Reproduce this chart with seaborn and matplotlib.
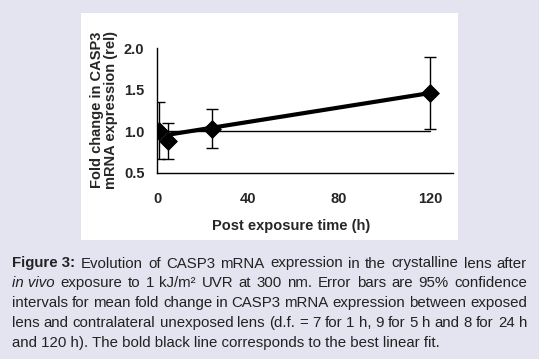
import numpy as np
import pandas as pd
import matplotlib
matplotlib.use('Agg')
import matplotlib.pyplot as plt
import seaborn as sns
from matplotlib.patches import Rectangle

# Data
hours = [1, 5, 24, 120]
fold_change = [1.00, 0.88, 1.03, 1.46]
ci_low = [0.67, 0.67, 0.80, 1.03]
ci_high = [1.35, 1.10, 1.27, 1.89]
fit_x = [5, 120]
fit_y = [0.96, 1.46]
ref_x = [1, 120]
ref_y = [1.0, 1.0]
x_ticks = [0, 40, 80, 120]
y_ticks = [0.5, 1.0, 1.5, 2.0]

caption = [
    [("Figure 3:", "b"), ("Evolution", "n"), ("of", "n"), ("CASP3", "n"), ("mRNA", "n"), ("expression", "n"),
     ("in", "n"), ("the", "n"), ("crystalline", "n"), ("lens", "n"), ("after", "n")],
    [("in vivo", "i"), ("exposure", "n"), ("to", "n"), ("1", "n"), ("kJ/m\u00b2", "n"), ("UVR", "n"), ("at", "n"),
     ("300", "n"), ("nm.", "n"), ("Error", "n"), ("bars", "n"), ("are", "n"), ("95%", "n"), ("confidence", "n")],
    [("intervals", "n"), ("for", "n"), ("mean", "n"), ("fold", "n"), ("change", "n"), ("in", "n"), ("CASP3", "n"),
     ("mRNA", "n"), ("expression", "n"), ("between", "n"), ("exposed", "n")],
    [("lens", "n"), ("and", "n"), ("contralateral", "n"), ("unexposed", "n"), ("lens", "n"), ("(d.f.", "n"), ("=", "n"),
     ("7", "n"), ("for", "n"), ("1", "n"), ("h,", "n"), ("9", "n"), ("for", "n"), ("5", "n"), ("h", "n"), ("and", "n"),
     ("8", "n"), ("for", "n"), ("24", "n"), ("h", "n")],
    [("and 120 h). The bold black line corresponds to the best linear fit.", "n")],
]

df = pd.DataFrame({'hours': hours, 'fold': fold_change, 'lo': ci_low, 'hi': ci_high})

sns.set_style('white')
plt.rcParams['font.family'] = ['Liberation Sans', 'DejaVu Sans']

W, H = 539, 359
fig = plt.figure(figsize=(W / 100, H / 100), dpi=100)
fig.patch.set_facecolor('#e4e3f0')

# white panel behind the chart
fig.patches.append(Rectangle((81 / W, 1 - 240 / H), 377 / W, 227 / H, transform=fig.transFigure,
                             facecolor='white', edgecolor='none', zorder=-5))

ax = fig.add_axes([157 / W, 1 - 173 / H, 296 / W, 125 / H])
ax.set_facecolor('none')
ax.set_zorder(2)

ax.plot(ref_x, ref_y, color='black', lw=1.0, zorder=2)
sns.lineplot(x=fit_x, y=fit_y, color='black', lw=3.0, ax=ax, zorder=3)
ax.errorbar(df['hours'], df['fold'], yerr=[df['fold'] - df['lo'], df['hi'] - df['fold']],
            fmt='none', ecolor='black', elinewidth=1.0, capsize=4, capthick=1.0, zorder=4)
sns.scatterplot(data=df, x='hours', y='fold', marker='D', s=80, color='black',
                edgecolor='black', ax=ax, zorder=5)

ax.set_xlim(0, 130)
ax.set_ylim(0.5, 2.0)
ax.set_xticks(x_ticks)
ax.set_yticks(y_ticks)
ax.set_xticklabels([str(t) for t in x_ticks], fontweight='bold', fontsize=10.5)
ax.set_yticklabels(['%.1f' % t for t in y_ticks], fontweight='bold', fontsize=10.5)
ax.tick_params(axis='both', direction='out', length=5, width=1, color='black', pad=4)
ax.tick_params(axis='x', pad=9)
for s in ['top', 'right']:
    ax.spines[s].set_visible(False)
for s in ['left', 'bottom']:
    ax.spines[s].set_color('black')
    ax.spines[s].set_linewidth(1)
ax.set_xlabel('')
ax.set_ylabel('')

fig.text(291 / W, 1 - 226 / H, 'Post exposure time (h)', ha='center', va='center',
         fontsize=10.5, fontweight='bold')
fig.text(104 / W, 1 - 110 / H, 'Fold change in CASP3\nmRNA expression (rel)', ha='center', va='center',
         rotation=90, fontsize=10.5, fontweight='bold', linespacing=1.05)

# justified caption
renderer = fig.canvas.get_renderer()
left, right = 12, 527
base0, step = 267.5, 19.8
styles = {'n': {}, 'b': {'fontweight': 'bold'}, 'i': {'fontstyle': 'italic'}}
for i, line in enumerate(caption):
    y = 1 - (base0 + i * step) / H
    texts = [fig.text(0, y, w, fontsize=10.8, color='#222222', va='baseline', ha='left', **styles[st])
             for w, st in line]
    widths = [t.get_window_extent(renderer).width for t in texts]
    if len(texts) > 1:
        gap = (right - left - sum(widths)) / (len(texts) - 1)
    else:
        gap = 0
    x = left
    for t, w in zip(texts, widths):
        t.set_x(x / W)
        x += w + gap

fig.savefig('out.png', dpi=100, facecolor=fig.get_facecolor())
